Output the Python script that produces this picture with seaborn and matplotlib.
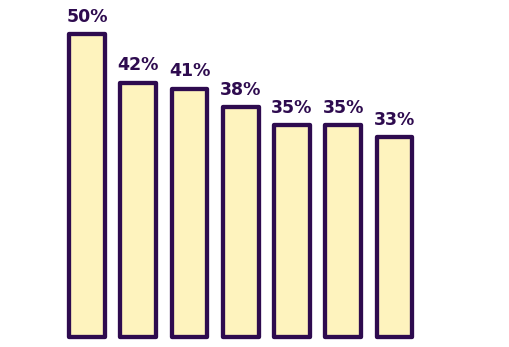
import matplotlib
matplotlib.use("Agg")
import matplotlib.pyplot as plt
import seaborn as sns
import pandas as pd

categories = ["C1", "C2", "C3", "C4", "C5", "C6", "C7"]
values = [50, 42, 41, 38, 35, 35, 33]
labels = ["50%", "42%", "41%", "38%", "35%", "35%", "33%"]

EDGE = "#2E0B4F"
FILL = "#FEF3BE"

sns.set_theme(style="white")
plt.rcParams['font.family'] = ['DejaVu Sans']

W, H = 510, 347
fig = plt.figure(figsize=(W / 100, H / 100), dpi=100)
left = 61.4
width = 358.75
bottom_px = 337
top_px = 4
ax = fig.add_axes([left / W, (H - bottom_px) / H, width / W, (bottom_px - top_px) / H])

df = pd.DataFrame({"cat": categories, "val": values})
sns.barplot(data=df, x="cat", y="val", ax=ax, color=FILL, width=0.70,
            edgecolor=EDGE, linewidth=3.1, saturation=1)
for p in ax.patches:
    p.set_clip_on(False)
    p.set_joinstyle("round")

ax.bar_label(ax.containers[0], labels=labels, padding=6, color=EDGE,
             fontsize=12.5, fontweight="bold")

ax.set_xlim(-0.5, 6.5)
ax.set_ylim(0, 55)
ax.axis("off")

fig.savefig("out.png", dpi=100)
